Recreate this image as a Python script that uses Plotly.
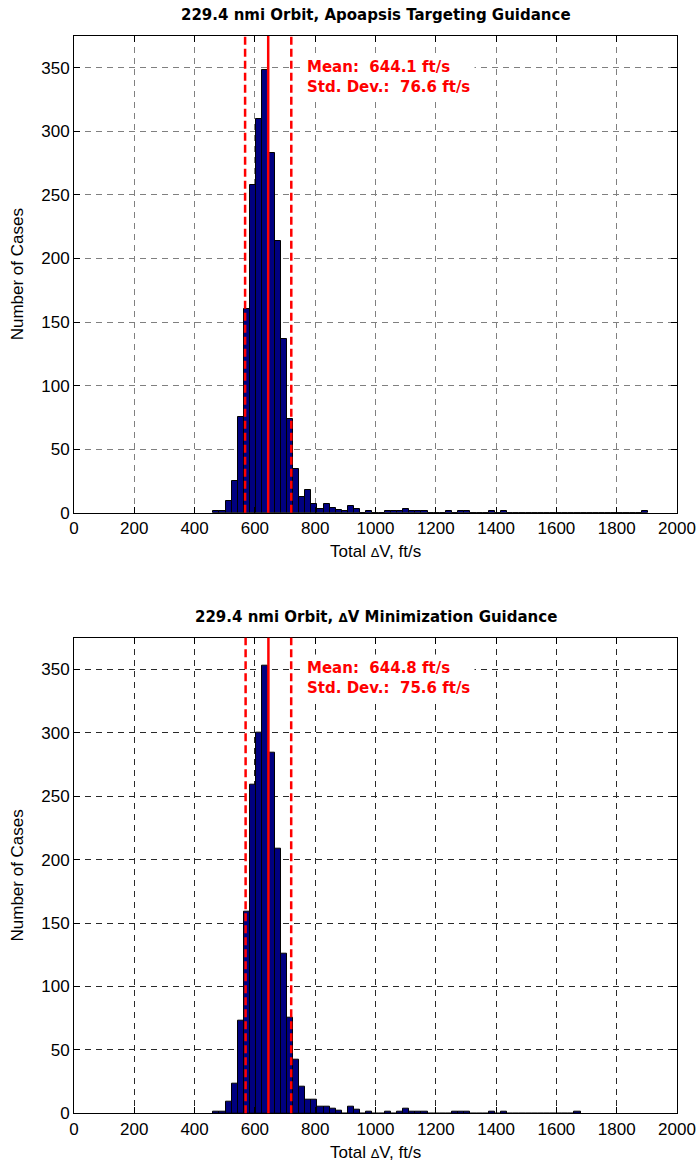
import plotly.graph_objects as go

# ---------------- data ----------------
bin_first_edge = 462.2
bin_width = 20.3

counts_apoapsis = [1, 1, 9, 25, 75, 160, 258, 310, 348, 283, 214, 137, 74, 34, 12, 18, 7, 3, 7, 4, 2, 1,
                   5, 3, 0, 1, 0, 0, 1, 1, 1, 3, 1, 1, 1, 0, 0, 0, 1, 0, 1, 1, 0, 0, 0, 1, 0, 1,
                   0, 0, 0, 0, 0, 0, 0, 0, 0, 0, 0, 0, 0, 0, 0, 0, 0, 0, 0, 0, 0, 0, 1]
counts_dvmin = [1, 1, 9, 23, 73, 159, 259, 300, 353, 284, 209, 126, 75, 42, 21, 11, 11, 5, 5, 4, 2, 0,
                5, 3, 0, 1, 0, 0, 1, 0, 1, 4, 1, 1, 1, 0, 0, 0, 0, 1, 1, 1, 0, 0, 0, 1, 0, 1,
                0, 0, 0, 0, 0, 0, 0, 0, 0, 0, 0, 1]

mean_apoapsis, std_apoapsis = 644.1, 76.6
mean_dvmin, std_dvmin = 644.8, 75.6

titles = ["229.4 nmi Orbit, Apoapsis Targeting Guidance",
          "229.4 nmi Orbit, <span style='font-size:12px'>Δ</span>V Minimization Guidance"]
x_ticks = list(range(0, 2001, 200))
y_ticks = list(range(0, 351, 50))

# ---------------- figure ----------------
W, H = 698, 1162
fig = go.Figure()

panels = [
    dict(counts=counts_apoapsis, mean=mean_apoapsis, std=std_apoapsis, top=36, bottom=512.7, grid="#808080"),
    dict(counts=counts_dvmin, mean=mean_dvmin, std=std_dvmin, top=637.7, bottom=1113.3, grid="#2a2a2a"),
]
x_dom = [74 / W, 677 / W]

for i, p in enumerate(panels):
    n = i + 1
    xa = "x" if n == 1 else f"x{n}"
    ya = "y" if n == 1 else f"y{n}"
    centers = [bin_first_edge + (k + 0.5) * bin_width for k in range(len(p["counts"]))]
    fig.add_trace(go.Bar(x=centers, y=p["counts"], width=bin_width,
                         marker=dict(color="#000080", line=dict(color="black", width=1)),
                         xaxis=xa, yaxis=ya, showlegend=False))
    ydom = [1 - p["bottom"] / H, 1 - p["top"] / H]
    axkw = dict(showline=True, linecolor="black", linewidth=1, mirror="ticks", ticks="inside",
                ticklen=6, tickcolor="black", showgrid=True, gridcolor=p["grid"], griddash="6px,5px",
                gridwidth=1, zeroline=False, automargin=False,
                tickfont=dict(family="Arial", size=17, color="black"))
    fig.layout[f"xaxis{'' if n == 1 else n}"] = dict(domain=x_dom, range=[0, 2000], tickvals=x_ticks,
                                                    anchor=ya, **axkw)
    fig.layout[f"yaxis{'' if n == 1 else n}"] = dict(domain=ydom, range=[0, 375], tickvals=y_ticks,
                                                    anchor=xa, **axkw)
    xref = xa
    yref_dom = f"{ya} domain"
    # mean and +/- std lines
    fig.add_shape(type="line", x0=p["mean"], x1=p["mean"], y0=0, y1=1, xref=xref, yref=yref_dom,
                  line=dict(color="#ff0000", width=2.5))
    for v in (p["mean"] - p["std"], p["mean"] + p["std"]):
        fig.add_shape(type="line", x0=v, x1=v, y0=0, y1=1, xref=xref, yref=yref_dom,
                      line=dict(color="#ff0000", width=2.5, dash="8px,4px"))
    # stats text (white background box)
    fig.add_annotation(x=755, y=343, xref=xref, yref=ya, xanchor="left", yanchor="middle", align="left",
                       text=f"<b>Mean:&nbsp; {p['mean']:.1f} ft/s<br>Std. Dev.:&nbsp; {p['std']:.1f} ft/s</b>",
                       showarrow=False, bgcolor="white", borderpad=4,
                       font=dict(family="DejaVu Sans", size=15, color="#ff0000"))
    # title
    fig.add_annotation(x=(x_dom[0] + x_dom[1]) / 2, y=1 - (p["top"] - 21) / H, xref="paper", yref="paper",
                       xanchor="center", yanchor="middle", text=f"<b>{titles[i]}</b>", showarrow=False,
                       font=dict(family="DejaVu Sans", size=15, color="black"))
    # axis labels
    fig.add_annotation(x=(x_dom[0] + x_dom[1]) / 2, y=1 - (p["bottom"] + 39) / H, xref="paper", yref="paper",
                       xanchor="center", yanchor="middle",
                       text="Total <span style='font-size:13px'>Δ</span>V, ft/s", showarrow=False,
                       font=dict(family="Arial", size=17, color="black"))
    fig.add_annotation(x=17 / W, y=1 - ((p["top"] + p["bottom"]) / 2) / H, xref="paper", yref="paper",
                       xanchor="center", yanchor="middle", textangle=-90,
                       text="Number of Cases", showarrow=False,
                       font=dict(family="Arial", size=17, color="black"))

fig.update_layout(width=W, height=H, margin=dict(l=0, r=0, t=0, b=0),
                  paper_bgcolor="white", plot_bgcolor="white", bargap=0)

fig.write_html("out.html")
